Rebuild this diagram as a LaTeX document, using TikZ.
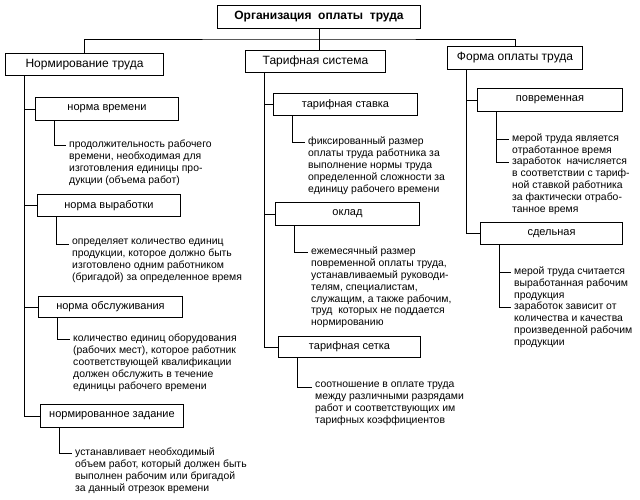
\documentclass[tikz,border=0pt]{standalone}
\usepackage{fontspec}
\setmainfont{Liberation Sans}
\usepackage{tikz}
\usetikzlibrary{calc}
\tikzset{>=latex}
\tikzset{
  link/.style={line width=1pt},
  topbox/.style={draw, line width=1pt, anchor=north west, inner sep=0pt, font=\fontsize{12}{14}\selectfont\bfseries},
  headbox/.style={draw, line width=1pt, anchor=north west, inner sep=0pt, font=\fontsize{12}{14}\selectfont},
  subbox/.style={draw, line width=1pt, anchor=north west, inner sep=0pt, font=\fontsize{11}{13}\selectfont},
  desc/.style={anchor=north west, inner sep=0pt, align=left, font=\fontsize{10.4}{11.8}\selectfont, execute at begin node=\strut},
}

\begin{document}
\begin{tikzpicture}[x=1pt,y=-1pt]
    \useasboundingbox (0,0) rectangle (640,499);
    \node[topbox, minimum width=203pt, minimum height=23pt] (org) at (217,5) {Организация~ оплаты~ труда};
    \node[headbox, minimum width=158pt, minimum height=22pt] (nt) at (5,53) {Нормирование труда};
    \node[headbox, minimum width=140pt, minimum height=22pt] (ts) at (245,50) {Тарифная система};
    \node[headbox, minimum width=135pt, minimum height=23pt] (fo) at (447,46) {Форма оплаты труда};

    \node[subbox, minimum width=143pt, minimum height=23pt] (nvr) at (35,97) {норма времени};
    \node[subbox, minimum width=143pt, minimum height=22pt] (nvy) at (37,194) {норма выработки};
    \node[subbox, minimum width=144pt, minimum height=21pt] (nob) at (38,296) {норма обслуживания};
    \node[subbox, minimum width=143pt, minimum height=23pt] (nz) at (40,404) {нормированное задание};
    \node[subbox, minimum width=144pt, minimum height=22pt] (tst) at (273,93) {тарифная ставка};
    \node[subbox, minimum width=144pt, minimum height=23pt] (okl) at (275,202) {оклад};
    \node[subbox, minimum width=142pt, minimum height=21pt] (tse) at (278,336) {тарифная сетка};
    \node[subbox, minimum width=145pt, minimum height=23pt] (pvr) at (477,88) {повременная};
    \node[subbox, minimum width=142pt, minimum height=22pt] (sdl) at (480,222) {сдельная};

    \node[desc] (d1) at (69,140) {продолжительность рабочего\\времени, необходимая для\\изготовления единицы про-\\дукции (объема работ)};
    \node[desc] (d2) at (72,239) {определяет количество единиц\\продукции, которое должно быть\\изготовлено одним работником\\(бригадой) за определенное время};
    \node[desc] (d3) at (73,334) {количество единиц оборудования\\(рабочих мест), которое работник\\соответствующей квалификации\\должен обслужить в течение\\единицы рабочего времени};
    \node[desc] (d4) at (75,448) {устанавливает необходимый\\объем работ, который должен быть\\выполнен рабочим или бригадой\\за данный отрезок времени};
    \node[desc] (d5) at (308,137) {фиксированный размер\\оплаты труда работника за\\выполнение нормы труда\\определенной сложности за\\единицу рабочего времени};
    \node[desc] (d6) at (311,247) {ежемесячный размер\\повременной оплаты труда,\\устанавливаемый руководи-\\телям, специалистам,\\служащим, а также рабочим,\\труд~ которых не поддается\\нормированию};
    \node[desc] (d7) at (315,382) {соотношение в оплате труда\\между различными разрядами\\работ и соответствующих им\\тарифных коэффициентов};
    \node[desc] (d8) at (512,134) {мерой труда является\\отработанное время};
    \node[desc] (d9) at (512,157) {заработок~ начисляется\\в соответствии с тариф-\\ной ставкой работника\\за фактически отрабо-\\танное время};
    \node[desc] (d10) at (514,267) {мерой труда считается\\выработанная рабочим\\продукция};
    \node[desc] (d11) at (514,302) {заработок зависит от\\количества и качества\\произведенной рабочим\\продукции};

    \coordinate (hub) at (318,39);
    \draw[link] (nt.north) |- (hub) -| (fo.north);
    \draw[link] (org.south) -- (org.south |- ts.north);

    \foreach \p/\c in {nt/nvr, nt/nvy, nt/nob, nt/nz, ts/tst, ts/okl, ts/tse, fo/pvr, fo/sdl} {
      \draw[link] ([xshift=19pt]\p.south west) |- (\c.west);
    }
    \foreach \b/\d in {nvr/d1, nvy/d2, nob/d3, nz/d4, tst/d5, okl/d6, tse/d7, pvr/d8, pvr/d9, sdl/d10, sdl/d11} {
      \draw[link] ([xshift=19pt]\b.south west) |- ([xshift=-3pt,yshift=-5.6pt]\d.north west);
    }
\end{tikzpicture}
\end{document}
